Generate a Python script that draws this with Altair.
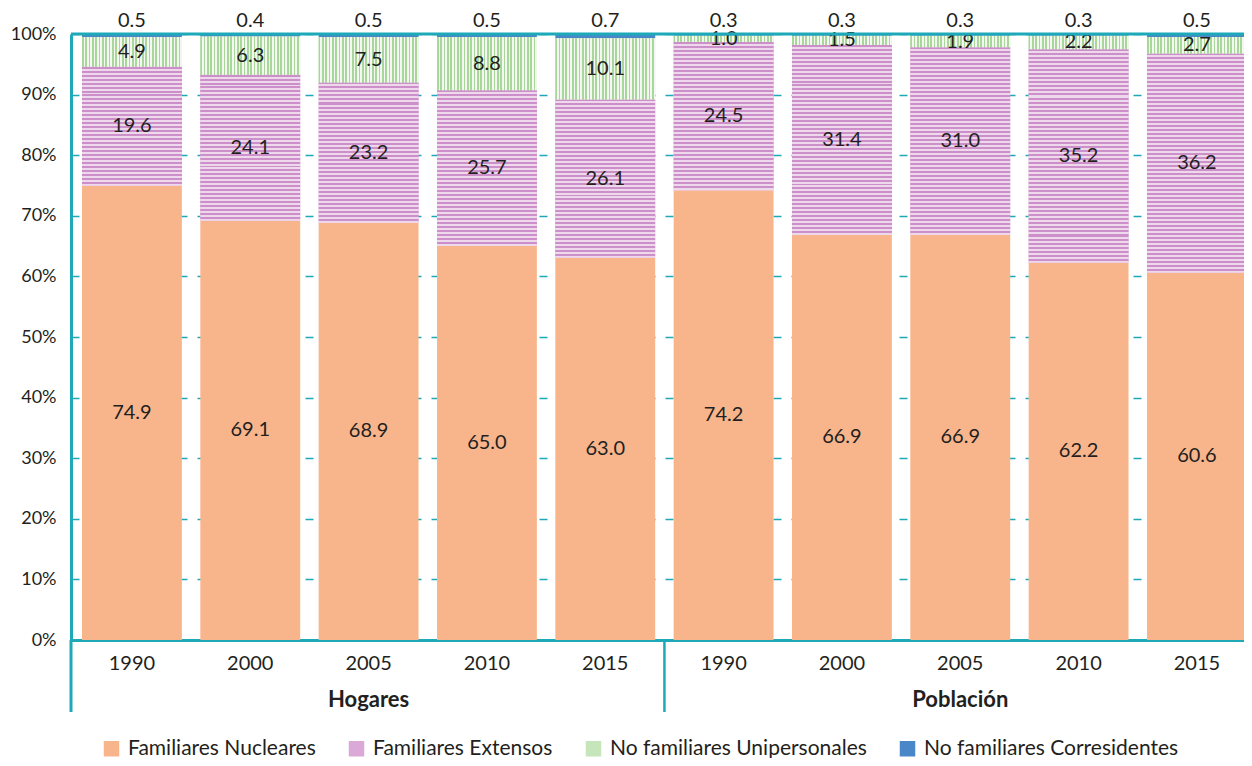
import altair as alt
import pandas as pd

years = ["1990", "2000", "2005", "2010", "2015"]
groups = ["Hogares", "Población"]
categories = ["Familiares Nucleares", "Familiares Extensos",
              "No familiares Unipersonales", "No familiares Corresidentes"]

hog_nuc = [74.9, 69.1, 68.9, 65.0, 63.0]
hog_ext = [19.6, 24.1, 23.2, 25.7, 26.1]
hog_uni = [4.9, 6.3, 7.5, 8.8, 10.1]
hog_cor = [0.5, 0.4, 0.5, 0.5, 0.7]

pob_nuc = [74.2, 66.9, 66.9, 62.2, 60.6]
pob_ext = [24.5, 31.4, 31.0, 35.2, 36.2]
pob_uni = [1.0, 1.5, 1.9, 2.2, 2.7]
pob_cor = [0.3, 0.3, 0.3, 0.3, 0.5]

colors = ["#F8B58C", "#DAA9D7", "#C6E5BA", "#4A87C8"]
stripe_dark = {1: "#CC8FCA", 2: "#A9D79B"}
stripe_light = {1: "#EED8EC", 2: "#F3F9F0"}
teal = "#1EA9B9"
FONT = "Lato"
TXT = "#231F20"

series = {
    "Hogares": [hog_nuc, hog_ext, hog_uni, hog_cor],
    "Población": [pob_nuc, pob_ext, pob_uni, pob_cor],
}

W, H = 1173, 606
P_IN, P_OUT = 0.156, 0.093
STEP = 118.33
RANGE = STEP * (10 - P_IN + 2 * P_OUT)
half_gap = P_IN * STEP / 2


def stripes(cat, seg_px):
    """Hard-stop linear gradient imitating the hatch pattern of a segment."""
    if cat == 1:   # horizontal lines, ~4 px period
        n = max(1, round(seg_px / 4.0))
        x1, y1, x2, y2 = 0, 0, 0, 1
    else:          # vertical lines, ~3.4 px period across the bar width
        n = 30
        x1, y1, x2, y2 = 0, 0, 1, 0
    d, l = stripe_dark[cat], stripe_light[cat]
    stops = []
    for k in range(n):
        a, m, b = k / n, (k + 0.5) / n, (k + 1) / n
        stops += [{"offset": a, "color": d}, {"offset": m, "color": d},
                  {"offset": m, "color": l}, {"offset": b, "color": l}]
    return {"gradient": "linear", "x1": x1, "y1": y1, "x2": x2, "y2": y2, "stops": stops}


rows = []
keys = []
for g in groups:
    for i, y in enumerate(years):
        key = f"{g}|{y}"
        keys.append(key)
        vals = [series[g][c][i] for c in range(4)]
        total = sum(vals)
        cum = 0.0
        for c, v in enumerate(vals):
            start = cum / total
            cum += v
            end = cum / total
            rows.append({
                "key": key, "group": g, "year": y, "cat": categories[c],
                "order": c, "value": v, "start": start, "end": end,
                "mid": (start + end) / 2, "label": f"{v:.1f}",
                "grad": stripes(c, (end - start) * H) if c in (1, 2) else None,
            })
df = pd.DataFrame(rows)

xscale = alt.Scale(domain=keys, paddingInner=P_IN, paddingOuter=P_OUT, range=[0, RANGE])
yscale = alt.Scale(domain=[0, 1])

base = alt.Chart(df)

bars = base.mark_bar().encode(
    x=alt.X("key:N", scale=xscale, sort=keys,
            axis=alt.Axis(title=None, labelExpr="split(datum.label, '|')[1]",
                          labelAngle=0, labelFontSize=20, labelFont=FONT,
                          labelColor=TXT, ticks=False, labelPadding=13,
                          domainColor=teal, domainWidth=3, grid=False)),
    y=alt.Y("start:Q", scale=yscale,
            axis=alt.Axis(title=None, format=".0%", values=[i / 10 for i in range(11)],
                          labelFontSize=18, labelFont=FONT, labelColor=TXT,
                          ticks=False, labelPadding=15, domainColor=teal, domainWidth=3,
                          grid=True, gridColor=teal, gridDash=[8, 10], gridWidth=1.6)),
    y2="end:Q",
    color=alt.Color("cat:N", scale=alt.Scale(domain=categories, range=colors),
                    legend=alt.Legend(title=None, orient="none", direction="horizontal",
                                      legendX=30, legendY=704, symbolType="square",
                                      symbolSize=240, symbolStrokeWidth=0,
                                      labelFontSize=21, labelFont=FONT, labelLimit=0,
                                      labelColor=TXT, columnPadding=30, labelOffset=6,
                                      symbolOpacity=1)),
    order=alt.Order("order:Q"),
)

hatch = base.transform_filter("datum.order == 1 || datum.order == 2").mark_bar().encode(
    x=alt.X("key:N", scale=xscale, sort=keys),
    y=alt.Y("start:Q", scale=yscale),
    y2="end:Q",
    fill=alt.Fill("grad:N", scale=None, legend=None),
)

inner = base.transform_filter("datum.order < 3").mark_text(
    fontSize=20, font=FONT, color=TXT, baseline="middle"
).encode(
    x=alt.X("key:N", scale=xscale, sort=keys),
    y=alt.Y("mid:Q", scale=yscale),
    text="label:N",
)

top = base.transform_filter("datum.order == 3").mark_text(
    fontSize=20, font=FONT, color=TXT, baseline="middle", dy=-13
).encode(
    x=alt.X("key:N", scale=xscale, sort=keys),
    y=alt.datum(1, scale=yscale),
    text="label:N",
)

top_rule = alt.Chart(pd.DataFrame({"v": [1.0]})).mark_rule(
    color=teal, strokeWidth=3
).encode(y=alt.Y("v:Q", scale=yscale), x=alt.value(0), x2=alt.value(W))

sep_df = pd.DataFrame({"key": ["Población|1990"]})
sep = alt.Chart(sep_df).mark_rule(color=teal, strokeWidth=2.5, xOffset=-half_gap).encode(
    x=alt.X("key:N", scale=xscale, sort=keys, bandPosition=0),
    y=alt.value(H), y2=alt.value(H + 72),
)
left_sep = alt.Chart(sep_df).mark_rule(color=teal, strokeWidth=3).encode(
    x=alt.value(0), y=alt.value(H), y2=alt.value(H + 72),
)

glab_df = pd.DataFrame({"key": ["Hogares|2005", "Población|2005"], "g": groups})
glab = alt.Chart(glab_df).mark_text(
    fontSize=22, font=FONT, fontWeight="bold", color=TXT, baseline="middle"
).encode(
    x=alt.X("key:N", scale=xscale, sort=keys),
    y=alt.value(H + 60),
    text="g:N",
)

chart = alt.layer(bars, hatch, inner, top, top_rule, sep, left_sep, glab).properties(
    width=W, height=H,
    padding={"left": 63, "top": 26, "right": 0, "bottom": 118},
    autosize=alt.AutoSizeParams(type="none"),
).configure_view(stroke=None)

chart.save("out.html", embed_options={"renderer": "svg", "actions": False})
